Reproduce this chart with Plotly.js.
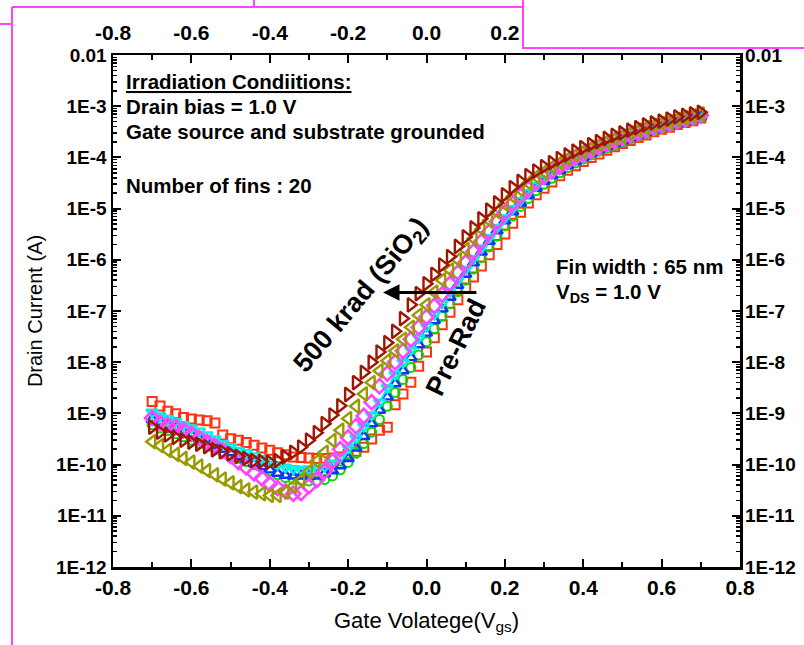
<!DOCTYPE html>
<html>
<head>
<meta charset="utf-8">
<script src="https://cdn.plot.ly/plotly-3.0.1.min.js"></script>
<style>
  html, body { margin: 0; padding: 0; background: #ffffff; }
  #chart { width: 804px; height: 645px; }
</style>
</head>
<body>
<div id="chart"></div>
<script>
// Gate voltage (V) sweep
const vgs = [-0.70,-0.68,-0.66,-0.64,-0.62,-0.60,-0.58,-0.56,-0.54,-0.52,-0.50,-0.48,-0.46,-0.44,-0.42,-0.40,-0.38,-0.36,-0.34,-0.32,-0.30,-0.28,-0.26,-0.24,-0.22,-0.20,-0.18,-0.16,-0.14,-0.12,-0.10,-0.08,-0.06,-0.04,-0.02,0.00,0.02,0.04,0.06,0.08,0.10,0.12,0.14,0.16,0.18,0.20,0.22,0.24,0.26,0.28,0.30,0.32,0.34,0.36,0.38,0.40,0.42,0.44,0.46,0.48,0.50,0.52,0.54,0.56,0.58,0.60,0.62,0.64,0.66,0.68,0.70];

// Drain current (A) for each irradiation step
const idRedSquares = [1.7e-9,1.4e-9,1.1e-9,9.8e-10,8.3e-10,7.8e-10,7.4e-10,7.2e-10,6.5e-10,3.8e-10,3.2e-10,3.0e-10,2.7e-10,2.4e-10,2.1e-10,1.9e-10,1.7e-10,1.55e-10,1.4e-10,1.38e-10,1.35e-10,1.32e-10,1.32e-10,1.35e-10,1.4e-10,1.58e-10,1.82e-10,2.19e-10,3.16e-10,4.68e-10,5.37e-10,1.48e-9,2.4e-9,4.07e-9,8.3e-9,1.58e-8,3.0e-8,5.4e-8,9.5e-8,1.66e-7,2.8e-7,4.6e-7,7.6e-7,1.26e-6,2.0e-6,3.2e-6,5.2e-6,8.5e-6,1.29e-5,1.86e-5,2.5e-5,3.3e-5,4.4e-5,5.6e-5,6.9e-5,8.3e-5,1.0e-4,1.17e-4,1.38e-4,1.62e-4,1.86e-4,2.14e-4,2.45e-4,2.75e-4,3.16e-4,3.55e-4,3.9e-4,4.4e-4,4.8e-4,5.2e-4,5.9e-4];
const idGreenCircles = [6.0e-10,5.2e-10,4.6e-10,4.0e-10,3.5e-10,3.0e-10,2.6e-10,2.3e-10,2.0e-10,1.74e-10,1.51e-10,1.32e-10,1.15e-10,1.0e-10,8.7e-11,7.6e-11,6.3e-11,5.6e-11,5.2e-11,5.0e-11,4.8e-11,4.8e-11,5.1e-11,6.0e-11,7.9e-11,1.1e-10,1.66e-10,2.57e-10,4.3e-10,7.6e-10,1.38e-9,2.57e-9,4.6e-9,7.9e-9,1.38e-8,2.5e-8,4.5e-8,7.9e-8,1.38e-7,2.4e-7,4.0e-7,6.6e-7,1.1e-6,1.78e-6,2.9e-6,4.6e-6,7.2e-6,1.1e-5,1.58e-5,2.24e-5,3.0e-5,3.9e-5,5.0e-5,6.3e-5,7.8e-5,9.3e-5,1.12e-4,1.32e-4,1.51e-4,1.74e-4,2.0e-4,2.3e-4,2.6e-4,2.95e-4,3.3e-4,3.7e-4,4.1e-4,4.6e-4,5.0e-4,5.5e-4,6.0e-4];
const idBlueUp = [7.6e-10,6.6e-10,5.75e-10,5.0e-10,4.4e-10,3.8e-10,3.2e-10,2.75e-10,2.34e-10,2.0e-10,1.7e-10,1.45e-10,1.23e-10,1.05e-10,9.1e-11,7.9e-11,6.8e-11,6.2e-11,6.0e-11,6.0e-11,5.9e-11,6.0e-11,6.6e-11,7.6e-11,9.5e-11,1.32e-10,2.1e-10,3.55e-10,6.3e-10,1.15e-9,2.1e-9,3.8e-9,6.8e-9,1.23e-8,2.19e-8,3.7e-8,6.5e-8,1.1e-7,1.86e-7,3.16e-7,5.2e-7,8.7e-7,1.41e-6,2.29e-6,3.7e-6,5.75e-6,8.7e-6,1.29e-5,1.82e-5,2.5e-5,3.4e-5,4.4e-5,5.5e-5,6.9e-5,8.3e-5,1.0e-4,1.2e-4,1.41e-4,1.62e-4,1.86e-4,2.14e-4,2.45e-4,2.75e-4,3.1e-4,3.5e-4,3.9e-4,4.3e-4,4.7e-4,5.1e-4,5.6e-4,6.2e-4];
const idCyanDown = [1.05e-9,8.9e-10,7.9e-10,6.9e-10,6.0e-10,5.2e-10,4.5e-10,3.8e-10,3.16e-10,2.6e-10,2.24e-10,1.9e-10,1.7e-10,1.48e-10,1.32e-10,1.15e-10,1.0e-10,8.9e-11,8.3e-11,8.1e-11,8.1e-11,8.3e-11,9.1e-11,1.07e-10,1.41e-10,2.1e-10,3.3e-10,5.6e-10,9.3e-10,1.66e-9,3.16e-9,5.75e-9,1.0e-8,1.74e-8,3.0e-8,5.0e-8,8.5e-8,1.41e-7,2.4e-7,4.0e-7,6.5e-7,1.05e-6,1.7e-6,2.7e-6,4.3e-6,6.6e-6,1.0e-5,1.45e-5,2.04e-5,2.8e-5,3.7e-5,4.8e-5,6.0e-5,7.4e-5,8.9e-5,1.07e-4,1.26e-4,1.48e-4,1.7e-4,1.95e-4,2.24e-4,2.5e-4,2.9e-4,3.2e-4,3.6e-4,4.0e-4,4.4e-4,4.8e-4,5.2e-4,5.75e-4,6.3e-4];
const idMagentaDiamonds = [8.1e-10,6.6e-10,5.9e-10,5.4e-10,4.7e-10,4.0e-10,3.3e-10,2.75e-10,2.3e-10,1.86e-10,1.48e-10,1.12e-10,8.9e-11,6.8e-11,5.4e-11,4.2e-11,3.5e-11,3.0e-11,2.7e-11,2.8e-11,3.8e-11,5.0e-11,7.4e-11,1.17e-10,2.0e-10,3.4e-10,5.6e-10,8.9e-10,1.66e-9,3.4e-9,6.0e-9,1.0e-8,1.66e-8,2.8e-8,4.8e-8,7.6e-8,1.26e-7,2.1e-7,3.4e-7,5.6e-7,8.9e-7,1.45e-6,2.29e-6,3.55e-6,5.6e-6,8.5e-6,1.26e-5,1.78e-5,2.45e-5,3.3e-5,4.3e-5,5.4e-5,6.6e-5,8.1e-5,9.8e-5,1.15e-4,1.35e-4,1.58e-4,1.82e-4,2.1e-4,2.4e-4,2.7e-4,3.0e-4,3.4e-4,3.8e-4,4.2e-4,4.6e-4,5.0e-4,5.5e-4,6.0e-4,6.6e-4];
const idOliveLeft = [2.8e-10,2.34e-10,1.9e-10,1.58e-10,1.32e-10,1.12e-10,9.3e-11,7.6e-11,6.3e-11,5.2e-11,4.4e-11,3.7e-11,3.2e-11,2.9e-11,2.7e-11,2.5e-11,2.5e-11,2.9e-11,3.8e-11,5.0e-11,7.4e-11,1.17e-10,1.74e-10,2.95e-10,4.7e-10,7.9e-10,1.38e-9,2.4e-9,4.0e-9,6.8e-9,1.07e-8,1.66e-8,2.8e-8,4.8e-8,8.3e-8,1.32e-7,2.34e-7,4.0e-7,6.3e-7,1.0e-6,1.58e-6,2.6e-6,4.0e-6,5.9e-6,8.7e-6,1.23e-5,1.74e-5,2.34e-5,3.16e-5,4.2e-5,5.2e-5,6.5e-5,7.9e-5,9.5e-5,1.12e-4,1.32e-4,1.55e-4,1.78e-4,2.04e-4,2.34e-4,2.6e-4,3.0e-4,3.4e-4,3.8e-4,4.2e-4,4.6e-4,5.0e-4,5.5e-4,6.0e-4,6.5e-4,7.1e-4];
const idDarkRedRight = [5.4e-10,4.3e-10,3.8e-10,3.4e-10,3.0e-10,2.75e-10,2.5e-10,2.24e-10,1.95e-10,1.78e-10,1.62e-10,1.45e-10,1.32e-10,1.2e-10,1.15e-10,1.12e-10,1.2e-10,1.41e-10,1.74e-10,2.19e-10,3.0e-10,4.2e-10,6.3e-10,9.3e-10,1.41e-9,2.34e-9,4.0e-9,6.3e-9,1.0e-8,1.58e-8,2.4e-8,4.0e-8,7.1e-8,1.32e-7,2.19e-7,3.4e-7,5.2e-7,7.9e-7,1.15e-6,1.82e-6,2.8e-6,4.2e-6,6.3e-6,9.3e-6,1.29e-5,1.86e-5,2.57e-5,3.4e-5,4.4e-5,5.4e-5,6.6e-5,7.9e-5,9.5e-5,1.12e-4,1.32e-4,1.55e-4,1.78e-4,2.04e-4,2.34e-4,2.7e-4,3.0e-4,3.4e-4,3.8e-4,4.3e-4,4.7e-4,5.1e-4,5.6e-4,6.2e-4,6.6e-4,7.1e-4,7.6e-4];

// Tick labels
const xTickVals = [-0.8,-0.6,-0.4,-0.2,0.0,0.2,0.4,0.6,0.8];
const xTickText = ['-0.8','-0.6','-0.4','-0.2','0.0','0.2','0.4','0.6','0.8'];
const yTickVals = [1e-12,1e-11,1e-10,1e-9,1e-8,1e-7,1e-6,1e-5,1e-4,1e-3,1e-2];
const yTickText = ['1E-12','1E-11','1E-10','1E-9','1E-8','1E-7','1E-6','1E-5','1E-4','1E-3','0.01'];

const FONT = 'Liberation Sans, Arial, sans-serif';
const NARROW = 'Liberation Sans Narrow, Arial Narrow, Liberation Sans, sans-serif';

const seriesDefs = [
  {y: idRedSquares,      symbol: 'square-open',         color: '#ff3311', size: 9,  lw: 2.0, line: false},
  {y: idGreenCircles,    symbol: 'circle-open',         color: '#00dd00', size: 9,  lw: 2.0, line: false},
  {y: idBlueUp,          symbol: 'triangle-up-open',    color: '#1133ff', size: 10, lw: 2.4, line: false},
  {y: idCyanDown,        symbol: 'triangle-down-open',  color: '#00eeee', size: 10, lw: 2.4, line: true},
  {y: idMagentaDiamonds, symbol: 'diamond-open',        color: '#ff44ff', size: 11, lw: 2.6, line: false},
  {y: idOliveLeft,       symbol: 'triangle-left-open',  color: '#999900', size: 12, lw: 2.4, line: false},
  {y: idDarkRedRight,    symbol: 'triangle-right-open', color: '#a01500', size: 12, lw: 2.4, line: false}
];

const traces = seriesDefs.map(s => ({
  x: vgs, y: s.y, type: 'scatter',
  mode: s.line ? 'lines+markers' : 'markers',
  line: {color: s.color, width: 2},
  marker: {symbol: s.symbol, size: s.size, color: s.color, line: {color: s.color, width: s.lw}},
  showlegend: false, hoverinfo: 'skip'
}));
// empty trace that only registers the mirrored (top / right) labelled axes
traces.push({x: [], y: [], type: 'scatter', mode: 'markers', xaxis: 'x2', yaxis: 'y2', showlegend: false, hoverinfo: 'skip'});

// minor tick positions (axis decoration)
const yMinor = [];
for (let e = -12; e < -2; e++) { for (let m = 2; m <= 9; m++) yMinor.push(m * Math.pow(10, e)); }
const xMinor = [-0.7,-0.5,-0.3,-0.1,0.1,0.3,0.5,0.7];

const xTickFont = {family: NARROW, size: 21, color: '#000', weight: 'bold'};
const yTickFont = {family: FONT, size: 19, color: '#000', weight: 'bold'};

const layout = {
  width: 804, height: 645,
  margin: {l: 113, r: 64, t: 55, b: 78},
  paper_bgcolor: '#fff', plot_bgcolor: '#fff',
  showlegend: false,
  xaxis: {
    range: [-0.8, 0.8], tickmode: 'array', tickvals: xTickVals, ticktext: xTickText,
    ticks: 'inside', ticklen: 8, tickwidth: 2, tickcolor: '#000',
    minor: {tickmode: 'array', tickvals: xMinor, ticks: 'inside', ticklen: 5, tickwidth: 2, tickcolor: '#000'},
    showline: true, linewidth: 2.5, linecolor: '#000', mirror: 'ticks',
    showgrid: false, zeroline: false, tickfont: xTickFont,
    title: {text: 'Gate Volatege(V<sub>gs</sub>)', font: {family: NARROW, size: 22, color: '#000'}, standoff: 15}
  },
  xaxis2: {
    overlaying: 'x', side: 'top', anchor: 'y', range: [-0.8, 0.8],
    tickmode: 'array', tickvals: xTickVals, ticktext: xTickText, ticks: '',
    ticklabelstandoff: 10,
    showline: false, showgrid: false, zeroline: false, tickfont: xTickFont
  },
  yaxis: {
    type: 'log', range: [-12, -2], tickmode: 'array', tickvals: yTickVals, ticktext: yTickText,
    ticks: 'inside', ticklen: 8, tickwidth: 2, tickcolor: '#000',
    minor: {tickmode: 'array', tickvals: yMinor, ticks: 'inside', ticklen: 4, tickwidth: 1.5, tickcolor: '#000'},
    showline: true, linewidth: 2.5, linecolor: '#000', mirror: 'ticks',
    showgrid: false, zeroline: false, tickfont: yTickFont,
    title: {text: 'Drain Current (A)', font: {family: FONT, size: 20, color: '#000'}, standoff: 8}
  },
  yaxis2: {
    overlaying: 'y', side: 'right', anchor: 'x', type: 'log', range: [-12, -2],
    tickmode: 'array', tickvals: yTickVals, ticktext: yTickText, ticks: '',
    ticklabelstandoff: 4,
    showline: false, showgrid: false, zeroline: false, tickfont: yTickFont
  },
  annotations: [
    {xref: 'paper', yref: 'paper', x: 0.0175, y: 0.949, xanchor: 'left', yanchor: 'middle', showarrow: false,
     text: '<u>Irradiation Condiitions:</u>', font: {family: FONT, size: 20.5, color: '#000', weight: 'bold'}},
    {xref: 'paper', yref: 'paper', x: 0.0175, y: 0.900, xanchor: 'left', yanchor: 'middle', showarrow: false,
     text: 'Drain bias = 1.0 V', font: {family: FONT, size: 20.5, color: '#000', weight: 'bold'}},
    {xref: 'paper', yref: 'paper', x: 0.0175, y: 0.850, xanchor: 'left', yanchor: 'middle', showarrow: false,
     text: 'Gate source and substrate grounded', font: {family: FONT, size: 20.5, color: '#000', weight: 'bold'}},
    {xref: 'paper', yref: 'paper', x: 0.0175, y: 0.746, xanchor: 'left', yanchor: 'middle', showarrow: false,
     text: 'Number of fins : 20', font: {family: FONT, size: 20.5, color: '#000', weight: 'bold'}},
    {xref: 'paper', yref: 'paper', x: 0.704, y: 0.586, xanchor: 'left', yanchor: 'middle', showarrow: false,
     text: 'Fin width : 65 nm', font: {family: FONT, size: 20.5, color: '#000', weight: 'bold'}},
    {xref: 'paper', yref: 'paper', x: 0.704, y: 0.535, xanchor: 'left', yanchor: 'middle', showarrow: false,
     text: 'V<sub>DS</sub> = 1.0 V', font: {family: FONT, size: 20.5, color: '#000', weight: 'bold'}},
    {xref: 'paper', yref: 'paper', x: (362 - 113) / 627, y: (567 - 296) / 512, xanchor: 'center', yanchor: 'middle',
     showarrow: false, textangle: -50,
     text: '500 krad (SiO<sub>2</sub>)', font: {family: FONT, size: 27, color: '#000', weight: 'bold'}},
    {xref: 'paper', yref: 'paper', x: (456 - 113) / 627, y: (567 - 347) / 512, xanchor: 'center', yanchor: 'middle',
     showarrow: false, textangle: -64,
     text: 'Pre-Rad', font: {family: FONT, size: 27, color: '#000', weight: 'bold'}},
    {xref: 'x', yref: 'y', x: -0.111, y: -6.64, axref: 'x', ayref: 'y', ax: 0.131, ay: -6.64,
     text: '', showarrow: true, arrowhead: 2, arrowsize: 1.1, arrowwidth: 3, arrowcolor: '#000'}
  ],
  shapes: [
    {type: 'line', xref: 'paper', yref: 'paper', x0: -0.1611, x1: 0.6539, y0: 1.0937, y1: 1.0937, line: {color: '#ff44ff', width: 2}},
    {type: 'line', xref: 'paper', yref: 'paper', x0: 0.2249, x1: 0.2249, y0: 1.0937, y1: 1.12, line: {color: '#ff44ff', width: 2}},
    {type: 'line', xref: 'paper', yref: 'paper', x0: -0.1611, x1: -0.1611, y0: 1.0937, y1: -0.17, line: {color: '#ff44ff', width: 2}},
    {type: 'line', xref: 'paper', yref: 'paper', x0: -0.19, x1: -0.1611, y0: 1.0605, y1: 1.0605, line: {color: '#ff44ff', width: 2}},
    {type: 'rect', xref: 'paper', yref: 'paper', layer: 'above', x0: 0.6539, x1: 1.2, y0: 1.0137, y1: 1.2,
     fillcolor: '#ffffff', line: {color: '#ff44ff', width: 2}}
  ]
};

Plotly.newPlot('chart', traces, layout, {displayModeBar: false, staticPlot: true});
</script>
</body>
</html>
